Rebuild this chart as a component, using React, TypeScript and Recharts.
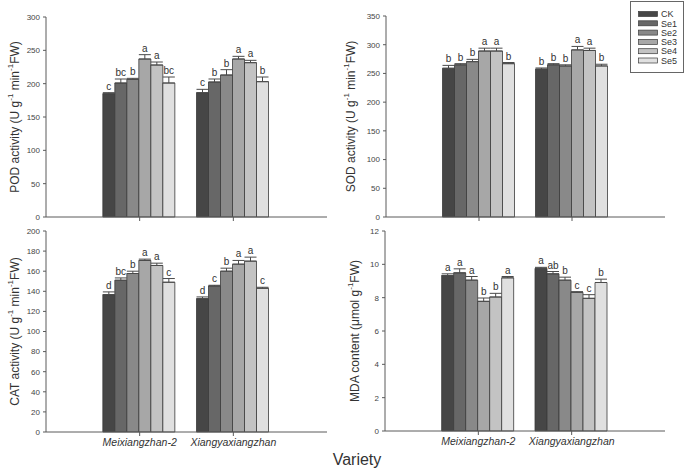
import React from 'react';
import { BarChart, Bar, XAxis, YAxis, ErrorBar } from 'recharts';

const categories = ['Meixiangzhan-2', 'Xiangyaxiangzhan'];
const series = ['CK', 'Se1', 'Se2', 'Se3', 'Se4', 'Se5'];
const colors = ['#464646', '#676767', '#898989', '#a7a7a7', '#c3c3c3', '#e0e0e0'];

// POD
const podMei = [185, 201, 206.5, 237, 228, 201];
const podXia = [186.5, 202.5, 213, 237, 231.5, 203];
const podErrMei = [1.5, 6, 1.5, 6.5, 4.5, 9];
const podErrXia = [5, 4.5, 8, 4, 3.5, 7];
const podLetMei = ['c', 'bc', 'b', 'a', 'a', 'bc'];
const podLetXia = ['c', 'b', 'b', 'a', 'a', 'b'];
const podTicks = [0, 50, 100, 150, 200, 250, 300];

// SOD
const sodMei = [259, 265, 270.5, 289, 289, 267];
const sodXia = [257.5, 265, 263, 291, 290, 263];
const sodErrMei = [5, 2, 4, 5, 5, 2];
const sodErrXia = [2, 2, 2, 6, 4, 3];
const sodLetMei = ['b', 'b', 'b', 'a', 'a', 'b'];
const sodLetXia = ['b', 'b', 'b', 'a', 'a', 'b'];
const sodTicks = [0, 50, 100, 150, 200, 250, 300, 350];

// CAT
const catMei = [136.7, 151, 157.7, 170.7, 165.7, 149];
const catXia = [132.7, 145.3, 160, 167, 170, 143];
const catErrMei = [2.7, 2.3, 2.3, 1.3, 2.3, 3.7];
const catErrXia = [1.7, 0.7, 3, 3.7, 4, 1];
const catLetMei = ['d', 'bc', 'b', 'a', 'a', 'c'];
const catLetXia = ['d', 'c', 'b', 'a', 'a', 'c'];
const catTicks = [0, 20, 40, 60, 80, 100, 120, 140, 160, 180, 200];

// MDA
const mdaMei = [9.33, 9.49, 9.05, 7.78, 8.04, 9.19];
const mdaXia = [9.76, 9.43, 9.05, 8.32, 7.96, 8.91];
const mdaErrMei = [0.1, 0.24, 0.22, 0.2, 0.22, 0.08];
const mdaErrXia = [0.06, 0.14, 0.18, 0.04, 0.22, 0.2];
const mdaLetMei = ['a', 'a', 'a', 'b', 'b', 'a'];
const mdaLetXia = ['a', 'ab', 'b', 'c', 'c', 'b'];
const mdaTicks = [0, 2, 4, 6, 8, 10, 12];

const FONT = '"Liberation Sans", Arial, sans-serif';
const AXIS = '#5a5a5a';
const TEXT = '#333';

function buildRows(vals: number[][], errs: number[][], lets: string[][]) {
  return categories.map((name, ci) => {
    const row: any = { name };
    series.forEach((_, si) => {
      row['v' + si] = vals[ci][si];
      row['e' + si] = [0, errs[ci][si]];
      row['l' + si] = lets[ci][si];
      row['err' + si] = errs[ci][si];
    });
    return row;
  });
}

type Part = { t: string; sup?: boolean };

function YLabel({ cx, cy, parts }: { cx: number; cy: number; parts: Part[] }) {
  return (
    <text
      transform={`translate(${cx},${cy}) rotate(-90)`}
      textAnchor="middle"
      dominantBaseline="central"
      fontFamily={FONT}
      fontSize={12}
      fill={TEXT}
    >
      {parts.map((p, i) => {
        const prevSup = i > 0 && parts[i - 1].sup;
        let dy = 0;
        if (p.sup) dy = -5;
        else if (prevSup) dy = 5;
        return (
          <tspan key={i} dy={dy} fontSize={p.sup ? 8 : 12}>
            {p.t}
          </tspan>
        );
      })}
    </text>
  );
}

type PanelProps = {
  left: number;
  top: number;
  width: number;
  height: number;
  yWidth: number;
  margin: { top: number; right: number; bottom: number; left: number };
  xHeight: number;
  showX: boolean;
  rows: any[];
  ticks: number[];
  labelParts: Part[];
  labelX: number;
};

function Panel(p: PanelProps) {
  const max = p.ticks[p.ticks.length - 1];
  const plotH = p.height - p.margin.top - p.margin.bottom - p.xHeight;
  const plotW = p.width - p.margin.left - p.margin.right - p.yWidth;
  const pad = plotW / 6;
  return (
    <div style={{ position: 'absolute', left: p.left, top: p.top }}>
      <BarChart
        width={p.width}
        height={p.height}
        data={p.rows}
        margin={p.margin}
        barGap={0}
        barCategoryGap={10}
      >
        <XAxis
          dataKey="name"
          height={p.xHeight}
          padding={{ left: pad, right: pad }}
          axisLine={{ stroke: AXIS }}
          tickLine={{ stroke: AXIS }}
          tickSize={4}
          tickMargin={3}
          interval={0}
          tickFormatter={(v: string) => (p.showX ? v : '')}
          tick={{ fontSize: 10.5, fontStyle: 'italic', fill: TEXT, fontFamily: FONT }}
        />
        <YAxis
          width={p.yWidth}
          domain={[0, max]}
          ticks={p.ticks}
          interval={0}
          axisLine={{ stroke: AXIS }}
          tickLine={{ stroke: AXIS }}
          tickSize={3}
          tickMargin={3}
          tick={{ fontSize: 8, fill: '#444', fontFamily: FONT }}
          label={{
            content: (lp: any) => (
              <YLabel
                cx={p.margin.left + p.labelX}
                cy={p.margin.top + plotH / 2}
                parts={p.labelParts}
              />
            ),
          }}
        />
        {series.map((s, si) => (
          <Bar
            key={s}
            dataKey={'v' + si}
            name={s}
            fill={colors[si]}
            stroke="#3a3a3a"
            strokeWidth={0.8}
            isAnimationActive={false}
            label={(lp: any) => {
              const { x, y, width, height, index } = lp;
              const row = p.rows[index];
              if (!row) return null;
              const val = row['v' + si];
              const ppu = height / val;
              const ty = y - row['err' + si] * ppu - 3;
              return (
                <text
                  x={x + width / 2}
                  y={ty}
                  textAnchor="middle"
                  fontSize={10}
                  fill={TEXT}
                  fontFamily={FONT}
                >
                  {row['l' + si]}
                </text>
              );
            }}
          >
            <ErrorBar
              dataKey={'e' + si}
              width={6}
              stroke="#4a4a4a"
              strokeWidth={1}
              isAnimationActive={false}
            />
          </Bar>
        ))}
      </BarChart>
    </div>
  );
}

function Legend() {
  const x0 = 630;
  const y0 = 1;
  return (
    <svg
      style={{ position: 'absolute', left: x0, top: y0 }}
      width={54}
      height={73}
    >
      <rect x={0.5} y={0.5} width={53} height={71} fill="#fff" stroke="#666" strokeWidth={1} />
      {series.map((s, i) => {
        const cy = 13 + i * 9.3;
        return (
          <g key={s}>
            <rect x={8.5} y={cy - 2.5} width={19} height={5} fill={colors[i]} stroke="#3a3a3a" strokeWidth={0.7} />
            <text x={31} y={cy + 3.2} fontSize={9} fill={TEXT} fontFamily={FONT}>
              {s}
            </text>
          </g>
        );
      })}
    </svg>
  );
}

const podRows = buildRows([podMei, podXia], [podErrMei, podErrXia], [podLetMei, podLetXia]);
const sodRows = buildRows([sodMei, sodXia], [sodErrMei, sodErrXia], [sodLetMei, sodLetXia]);
const catRows = buildRows([catMei, catXia], [catErrMei, catErrXia], [catLetMei, catLetXia]);
const mdaRows = buildRows([mdaMei, mdaXia], [mdaErrMei, mdaErrXia], [mdaLetMei, mdaLetXia]);

const enzParts = (n: string): Part[] => [
  { t: n + ' activity (U g' },
  { t: '-1', sup: true },
  { t: ' min' },
  { t: '-1', sup: true },
  { t: 'FW)' },
];
const mdaParts: Part[] = [
  { t: 'MDA content (\u03bcmol g' },
  { t: '-1', sup: true },
  { t: 'FW)' },
];

export default function App() {
  return (
    <div
      style={{
        position: 'absolute',
        left: 0,
        top: 0,
        width: 685,
        height: 471,
        background: '#fff',
        fontFamily: FONT,
        overflow: 'hidden',
      }}
    >
      <Panel
        left={0}
        top={0}
        width={345}
        height={235}
        yWidth={46}
        margin={{ top: 17, right: 18, bottom: 0, left: 0 }}
        xHeight={18}
        showX={false}
        rows={podRows}
        ticks={podTicks}
        labelParts={enzParts('POD')}
        labelX={15}
      />
      <Panel
        left={340}
        top={0}
        width={345}
        height={235}
        yWidth={46}
        margin={{ top: 16, right: 20, bottom: 0, left: 0 }}
        xHeight={18}
        showX={false}
        rows={sodRows}
        ticks={sodTicks}
        labelParts={enzParts('SOD')}
        labelX={11}
      />
      <Panel
        left={0}
        top={220}
        width={345}
        height={251}
        yWidth={46}
        margin={{ top: 11, right: 18, bottom: 0, left: 0 }}
        xHeight={39}
        showX={true}
        rows={catRows}
        ticks={catTicks}
        labelParts={enzParts('CAT')}
        labelX={15}
      />
      <Panel
        left={340}
        top={220}
        width={345}
        height={251}
        yWidth={45}
        margin={{ top: 11, right: 20, bottom: 0, left: 0 }}
        xHeight={40}
        showX={true}
        rows={mdaRows}
        ticks={mdaTicks}
        labelParts={mdaParts}
        labelX={15}
      />
      <Legend />
      <div
        style={{
          position: 'absolute',
          left: 357,
          top: 451,
          transform: 'translateX(-50%)',
          fontSize: 16,
          color: TEXT,
          fontFamily: FONT,
          lineHeight: '18px',
          whiteSpace: 'nowrap',
        }}
      >
        Variety
      </div>
    </div>
  );
}
